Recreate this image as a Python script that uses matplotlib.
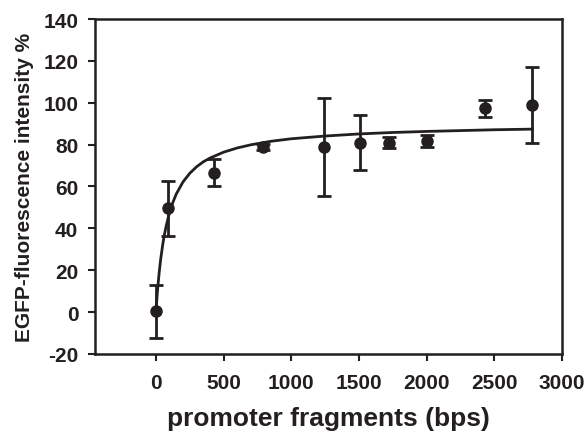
import matplotlib
matplotlib.use('Agg')
from matplotlib import pyplot as plt

# measured points (bps, % intensity, error)
fragments = [0, 90, 430, 790, 1240, 1510, 1720, 2000, 2430, 2780]
intensity = [0.3, 49.5, 66.5, 79.0, 79.0, 81.0, 81.0, 81.7, 97.4, 99.0]
errors = [12.5, 13.0, 6.5, 1.5, 23.5, 13.0, 2.5, 3.0, 4.0, 18.0]

# fitted curve
curve_x = [0, 5, 10, 15, 25, 35, 50, 60, 75, 100, 125, 150, 200, 250, 300,
           350, 400, 500, 600, 700, 850, 1000, 1250, 1500, 1750, 2000,
           2250, 2500, 2780]
curve_y = [0.0, 4.7, 9.0, 12.9, 19.6, 25.3, 32.2, 36.1, 41.0, 47.5, 52.4,
           56.4, 62.2, 66.3, 69.4, 71.8, 73.6, 76.4, 78.4, 79.9, 81.6, 82.8,
           84.1, 85.1, 85.8, 86.3, 86.7, 87.1, 87.4]

x_ticks = [0, 500, 1000, 1500, 2000, 2500, 3000]
y_ticks = [-20, 0, 20, 40, 60, 80, 100, 120, 140]

INK = '#231f20'


def plot_chart():
   plt.rcParams['font.family'] = ['Liberation Sans', 'DejaVu Sans']
   plt.rcParams['font.weight'] = 'bold'
   plt.rcParams['axes.unicode_minus'] = False
   fig = plt.figure(figsize=(5.88, 4.35), dpi=100)
   ax = fig.add_axes([0.1616, 0.184, 0.7944, 0.770])

   ax.plot(curve_x, curve_y, '-', color=INK, lw=2.0, zorder=2,
           solid_joinstyle='round')
   ax.errorbar(fragments, intensity, yerr=errors, fmt='o', color=INK,
               ms=8, elinewidth=2.0, capsize=5, capthick=2.0, zorder=3)

   ax.set_xlim(-450, 3000)
   ax.set_ylim(-20, 140)
   ax.set_xticks(x_ticks)
   ax.set_yticks(y_ticks)
   ax.tick_params(direction='out', length=5, width=1.5, colors=INK,
                  labelsize=15, pad=7)
   ax.tick_params(axis='x', pad=9)
   for label in ax.get_xticklabels() + ax.get_yticklabels():
      label.set_fontweight('bold')
   for spine in ax.spines.values():
      spine.set_linewidth(1.8)
      spine.set_color(INK)

   ax.set_xlabel('promoter fragments (bps)', fontsize=19, fontweight='bold',
                 color=INK, labelpad=10)
   ax.set_ylabel('EGFP-fluorescence intensity %', fontsize=15,
                 fontweight='bold', color=INK, labelpad=7)
   fig.savefig('out.png', format='png', dpi=100)


def main():
   plot_chart()


if __name__ == "__main__":
   main()
